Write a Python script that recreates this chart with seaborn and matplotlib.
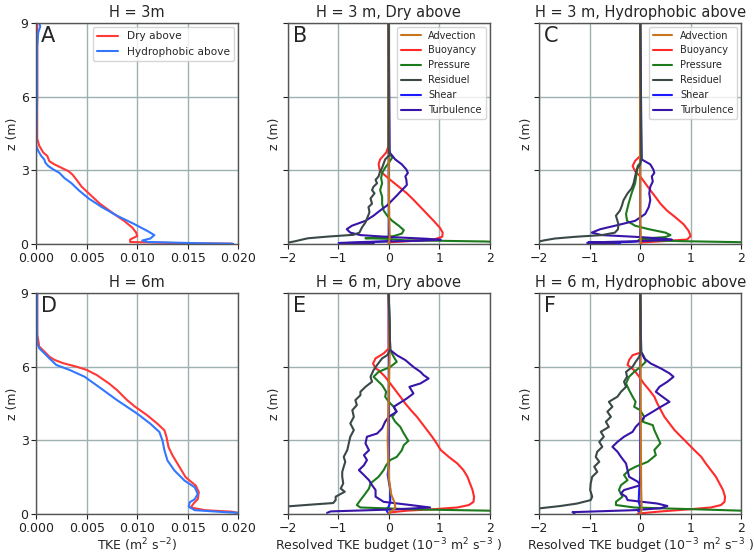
import matplotlib
matplotlib.use("Agg")
import matplotlib.pyplot as plt
from matplotlib.ticker import FormatStrFormatter
import seaborn as sns

# ---- TKE profiles (panels A and D) ----
z_a_dry = [9.0, 6.0, 4.5, 4.28, 4.0, 3.72, 3.58, 3.37, 3.24, 3.1, 2.96, 2.82, 2.61, 2.33, 2.06, 1.64, 1.22, 0.94, 0.67, 0.46, 0.32, 0.18, 0.08, 0.03, 0.01]
tke_a_dry = [0.0001, 0.0001, 0.0001, 0.0001, 0.0003, 0.0007, 0.0011, 0.0013, 0.0018, 0.0025, 0.0032, 0.0036, 0.0040, 0.0045, 0.0052, 0.0063, 0.0077, 0.0087, 0.0095, 0.0099, 0.0100, 0.0093, 0.0093, 0.0143, 0.0193]
z_a_hyd = [9.0, 8.85, 8.6, 8.0, 6.0, 4.0, 3.79, 3.58, 3.44, 3.31, 3.17, 3.03, 2.89, 2.68, 2.47, 2.19, 1.85, 1.5, 1.15, 0.81, 0.53, 0.36, 0.22, 0.14, 0.08, 0.03, 0.01]
tke_a_hyd = [0.0003, 0.0004, 0.0002, 0.0001, 0.0001, 0.0000, 0.0002, 0.0005, 0.0008, 0.0009, 0.0012, 0.0017, 0.0023, 0.0028, 0.0035, 0.0042, 0.0052, 0.0065, 0.0080, 0.0097, 0.0110, 0.0117, 0.0113, 0.0105, 0.0110, 0.0160, 0.0195]

z_d_dry = [9.0, 7.3, 7.09, 6.82, 6.62, 6.41, 6.28, 6.14, 6.0, 5.87, 5.66, 5.32, 5.05, 4.64, 4.37, 4.02, 3.68, 3.41, 3.14, 2.73, 2.39, 1.91, 1.5, 1.16, 0.89, 0.61, 0.44, 0.27, 0.16, 0.10, 0.05]
tke_d_dry = [0.0001, 0.0001, 0.0002, 0.0003, 0.0008, 0.0013, 0.0018, 0.0027, 0.0040, 0.0050, 0.0060, 0.0072, 0.0080, 0.0090, 0.0098, 0.0110, 0.0120, 0.0127, 0.0129, 0.0131, 0.0135, 0.0142, 0.0148, 0.0158, 0.0161, 0.0160, 0.0156, 0.0153, 0.0167, 0.0193, 0.0200]
z_d_hyd = [9.0, 6.96, 6.75, 6.55, 6.34, 6.07, 5.87, 5.59, 5.18, 4.64, 4.09, 3.68, 3.34, 3.0, 2.59, 2.18, 1.77, 1.36, 1.09, 0.82, 0.61, 0.48, 0.30, 0.16, 0.08, 0.05]
tke_d_hyd = [0.0001, 0.0001, 0.0003, 0.0008, 0.0013, 0.0020, 0.0033, 0.0048, 0.0062, 0.0080, 0.0100, 0.0113, 0.0122, 0.0125, 0.0127, 0.0130, 0.0137, 0.0147, 0.0157, 0.0160, 0.0157, 0.0152, 0.0151, 0.0157, 0.0187, 0.0200]

# ---- budget terms, H = 3 m, dry above (B) ----
z_b_adv = [9.0, 3.0, 1.0, 0.3, 0.1, 0.0]
adv_b = [0.0, 0.0, 0.01, 0.02, 0.01, 0.0]
z_b_buo = [9.0, 4.0, 3.72, 3.44, 3.24, 3.03, 2.89, 2.61, 2.33, 2.06, 1.78, 1.5, 1.22, 0.94, 0.67, 0.46, 0.29, 0.18, 0.11, 0.07, 0.01]
buo_b = [0.0, 0.0, -0.05, -0.17, -0.2, -0.18, -0.13, 0.03, 0.2, 0.36, 0.5, 0.63, 0.76, 0.89, 1.01, 1.07, 1.06, 0.89, 0.36, 0.03, 0.0]
z_b_pre = [9.0, 3.9, 3.65, 3.51, 3.3, 3.1, 2.89, 2.68, 2.47, 2.19, 1.92, 1.64, 1.36, 1.15, 0.94, 0.74, 0.56, 0.42, 0.32, 0.26, 0.23, 0.21, 0.15, 0.10, 0.07]
pre_b = [0.0, 0.0, 0.03, 0.07, 0.0, -0.07, -0.13, -0.15, -0.13, -0.17, -0.13, -0.13, -0.1, -0.03, 0.07, 0.2, 0.3, 0.26, 0.1, -0.2, -0.46, -0.05, 0.3, 1.9, 2.3]
z_b_res = [9.0, 3.7, 3.65, 3.44, 3.1, 2.96, 2.75, 2.61, 2.47, 2.33, 2.19, 2.06, 1.85, 1.64, 1.5, 1.29, 1.08, 0.875, 0.67, 0.46, 0.37, 0.3, 0.23, 0.16, 0.11, 0.05]
res_b = [0.0, 0.0, 0.03, -0.07, -0.13, -0.17, -0.2, -0.26, -0.23, -0.3, -0.33, -0.28, -0.36, -0.33, -0.4, -0.38, -0.42, -0.46, -0.53, -0.58, -0.7, -1.2, -1.6, -1.75, -1.85, -2.0]
z_b_she = [9.0, 0.25, 0.12, 0.05, 0.03, 0.01]
she_b = [0.0, 0.0, 0.05, -0.6, -0.99, -0.3]
z_b_tur = [9.0, 3.72, 3.44, 3.24, 3.03, 2.89, 2.75, 2.61, 2.4, 2.19, 1.99, 1.78, 1.57, 1.36, 1.15, 0.94, 0.74, 0.6, 0.46, 0.36, 0.28, 0.21, 0.17, 0.13, 0.08, 0.04, 0.01]
tur_b = [0.0, 0.02, 0.13, 0.26, 0.35, 0.38, 0.33, 0.35, 0.36, 0.26, 0.17, 0.07, -0.03, -0.17, -0.3, -0.46, -0.73, -0.83, -0.76, -0.56, 0.03, 0.76, 1.03, 0.63, -0.5, -0.96, -0.3]

# ---- budget terms, H = 3 m, hydrophobic above (C) ----
z_c_adv = [9.0, 3.0, 1.0, 0.3, 0.1, 0.0]
adv_c = [0.0, 0.0, 0.0, 0.01, 0.01, 0.0]
z_c_buo = [9.0, 3.58, 3.38, 3.17, 2.96, 2.75, 2.47, 2.19, 1.92, 1.64, 1.36, 1.08, 0.8, 0.53, 0.32, 0.18, 0.11, 0.06, 0.01]
buo_c = [0.0, 0.0, -0.1, -0.15, -0.1, 0.0, 0.1, 0.2, 0.3, 0.4, 0.53, 0.7, 0.86, 0.96, 1.0, 0.93, 0.43, 0.03, 0.0]
z_c_pre = [9.0, 3.44, 3.3, 3.17, 2.89, 2.47, 2.06, 1.64, 1.22, 0.94, 0.74, 0.6, 0.46, 0.36, 0.28, 0.21, 0.16, 0.11, 0.06]
pre_c = [0.0, 0.02, 0.0, -0.05, -0.07, -0.1, -0.17, -0.23, -0.28, -0.26, -0.1, 0.17, 0.5, 0.6, 0.5, 0.03, -0.03, 0.89, 2.3]
z_c_res = [9.0, 3.44, 3.24, 3.03, 2.75, 2.47, 2.26, 2.06, 1.78, 1.57, 1.36, 1.15, 1.01, 0.8, 0.6, 0.46, 0.36, 0.29, 0.22, 0.15, 0.08]
res_c = [0.0, 0.02, 0.0, -0.07, -0.1, -0.13, -0.17, -0.25, -0.33, -0.36, -0.4, -0.48, -0.46, -0.43, -0.44, -0.5, -0.76, -1.29, -1.69, -1.89, -2.05]
z_c_she = [9.0, 0.25, 0.15, 0.08, 0.04, 0.01]
she_c = [0.0, 0.0, 0.3, -0.2, -1.05, -0.4]
z_c_tur = [9.0, 3.44, 3.24, 3.03, 2.89, 2.75, 2.54, 2.33, 2.06, 1.78, 1.5, 1.22, 0.94, 0.74, 0.6, 0.46, 0.36, 0.29, 0.22, 0.17, 0.11, 0.06, 0.02]
tur_c = [0.0, 0.03, 0.2, 0.26, 0.28, 0.23, 0.25, 0.2, 0.18, 0.2, 0.17, 0.1, -0.1, -0.5, -0.79, -0.96, -0.76, -0.1, 0.43, 0.63, -0.1, -1.03, -0.5]

# ---- budget terms, H = 6 m, dry above (E) ----
z_e_adv = [9.0, 6.5, 5.0, 3.0, 1.5, 0.8, 0.45, 0.25, 0.12, 0.02]
adv_e = [0.0, 0.02, 0.0, -0.02, 0.0, 0.05, 0.12, 0.13, 0.05, 0.0]
z_e_buo = [9.0, 6.74, 6.54, 6.34, 6.13, 5.93, 5.86, 5.59, 5.32, 5.05, 4.78, 4.5, 4.23, 3.96, 3.69, 3.42, 3.15, 2.88, 2.61, 2.33, 2.06, 1.79, 1.52, 1.25, 0.98, 0.71, 0.5, 0.37, 0.27, 0.2, 0.14, 0.07, 0.01]
buo_e = [0.0, 0.0, -0.1, -0.26, -0.31, -0.26, -0.2, -0.07, 0.03, 0.13, 0.23, 0.33, 0.44, 0.56, 0.66, 0.76, 0.86, 0.95, 1.03, 1.19, 1.36, 1.48, 1.56, 1.61, 1.66, 1.69, 1.68, 1.59, 1.36, 0.89, 0.36, 0.03, 0.0]
z_e_pre = [9.0, 6.68, 6.4, 6.2, 5.99, 5.79, 5.59, 5.45, 5.25, 4.98, 4.78, 4.57, 4.37, 4.17, 3.96, 3.76, 3.55, 3.28, 2.98, 2.81, 2.6, 2.33, 2.2, 1.99, 1.79, 1.52, 1.25, 1.04, 0.84, 0.57, 0.37, 0.27, 0.19, 0.14, 0.1]
pre_e = [0.0, 0.03, 0.1, 0.16, 0.03, -0.2, -0.3, -0.23, -0.13, -0.05, -0.07, 0.0, 0.1, 0.15, 0.07, 0.13, 0.23, 0.3, 0.39, 0.3, 0.26, 0.16, 0.03, -0.05, -0.1, -0.2, -0.36, -0.39, -0.46, -0.56, -0.63, -0.56, 0.56, 1.98, 2.3]
z_e_res = [9.0, 6.68, 6.47, 6.34, 6.07, 5.86, 5.59, 5.39, 5.18, 4.98, 4.84, 4.64, 4.44, 4.23, 3.96, 3.69, 3.42, 3.15, 2.88, 2.61, 2.33, 2.13, 1.93, 1.72, 1.52, 1.25, 1.04, 0.91, 0.71, 0.57, 0.45, 0.4, 0.33, 0.27]
res_e = [0.0, 0.03, -0.03, -0.13, -0.23, -0.3, -0.36, -0.33, -0.46, -0.56, -0.56, -0.66, -0.63, -0.72, -0.69, -0.76, -0.69, -0.76, -0.79, -0.82, -0.89, -0.86, -0.89, -0.92, -0.92, -0.9, -0.95, -0.87, -1.05, -1.05, -1.1, -1.45, -1.9, -2.3]
z_e_she = [9.0, 2.0, 1.6, 1.0, 0.5, 0.3, 0.2, 0.1, 0.03]
she_e = [0.0, 0.0, -0.02, 0.03, 0.03, 0.0, -0.05, -0.03, 0.0]
z_e_tur = [9.0, 6.68, 6.47, 6.27, 5.99, 5.79, 5.66, 5.52, 5.32, 5.18, 4.91, 4.71, 4.5, 4.37, 4.17, 3.96, 3.76, 3.49, 3.28, 3.15, 2.88, 2.6, 2.4, 2.2, 1.99, 1.79, 1.59, 1.38, 1.18, 0.98, 0.71, 0.5, 0.37, 0.27, 0.19, 0.11, 0.05]
tur_e = [0.0, 0.03, 0.16, 0.33, 0.49, 0.63, 0.69, 0.79, 0.63, 0.41, 0.49, 0.36, 0.2, 0.1, 0.16, 0.0, -0.07, -0.13, -0.23, -0.43, -0.46, -0.39, -0.49, -0.43, -0.49, -0.59, -0.49, -0.39, -0.33, -0.26, -0.26, -0.1, 0.43, 0.82, 0.1, -1.15, -1.22]

# ---- budget terms, H = 6 m, hydrophobic above (F) ----
z_f_adv = [9.0, 4.0, 1.0, 0.2, 0.0]
adv_f = [0.0, 0.01, 0.02, 0.03, 0.0]
z_f_buo = [9.0, 6.57, 6.47, 6.27, 6.07, 5.86, 5.59, 5.32, 5.05, 4.78, 4.5, 4.23, 3.96, 3.69, 3.42, 3.15, 2.88, 2.61, 2.33, 2.06, 1.79, 1.52, 1.25, 0.98, 0.71, 0.5, 0.37, 0.27, 0.19, 0.11, 0.02]
buo_f = [0.0, 0.0, -0.15, -0.22, -0.25, -0.12, -0.02, 0.07, 0.18, 0.28, 0.34, 0.41, 0.48, 0.58, 0.68, 0.81, 0.94, 1.07, 1.21, 1.3, 1.4, 1.5, 1.57, 1.64, 1.68, 1.67, 1.6, 1.4, 0.94, 0.41, -0.05]
z_f_pre = [9.0, 6.6, 6.4, 6.2, 6.0, 5.79, 5.59, 5.32, 5.05, 4.78, 4.57, 4.37, 4.23, 3.96, 3.76, 3.62, 3.42, 3.15, 2.88, 2.61, 2.4, 2.13, 1.93, 1.79, 1.59, 1.38, 1.18, 0.98, 0.71, 0.5, 0.37, 0.27, 0.19, 0.14, 0.1]
pre_f = [0.0, 0.02, 0.08, 0.11, 0.01, -0.12, -0.22, -0.28, -0.22, -0.15, -0.09, -0.12, 0.0, 0.08, 0.05, 0.25, 0.28, 0.34, 0.4, 0.28, 0.31, 0.15, -0.09, -0.22, -0.32, -0.25, -0.38, -0.42, -0.35, -0.48, -0.48, -0.12, 1.2, 2.0, 2.3]
z_f_res = [9.0, 6.6, 6.4, 6.2, 6.0, 5.79, 5.59, 5.39, 5.18, 4.98, 4.78, 4.57, 4.37, 4.17, 3.96, 3.76, 3.55, 3.35, 3.15, 2.94, 2.74, 2.54, 2.33, 2.13, 1.93, 1.72, 1.52, 1.25, 0.98, 0.71, 0.57, 0.43, 0.33, 0.24, 0.18]
res_f = [0.0, 0.01, -0.02, -0.09, -0.15, -0.28, -0.26, -0.32, -0.28, -0.38, -0.45, -0.62, -0.55, -0.65, -0.58, -0.68, -0.62, -0.78, -0.72, -0.81, -0.75, -0.85, -0.88, -0.81, -0.91, -0.85, -0.95, -0.98, -0.99, -0.95, -0.98, -1.25, -1.58, -1.97, -2.3]
z_f_she = [9.0, 1.5, 1.0, 0.5, 0.3, 0.15, 0.05]
she_f = [0.0, 0.0, -0.02, -0.03, 0.0, -0.05, 0.0]
z_f_tur = [9.0, 6.6, 6.34, 6.13, 5.93, 5.73, 5.59, 5.39, 5.18, 4.98, 4.78, 4.57, 4.37, 4.17, 3.96, 3.76, 3.55, 3.35, 3.15, 2.94, 2.74, 2.54, 2.33, 2.06, 1.79, 1.52, 1.32, 1.18, 0.98, 0.84, 0.71, 0.57, 0.43, 0.33, 0.24, 0.16, 0.08, 0.04]
tur_f = [0.0, 0.02, 0.08, 0.21, 0.41, 0.58, 0.66, 0.54, 0.38, 0.31, 0.44, 0.58, 0.41, 0.25, 0.08, 0.01, -0.09, -0.15, -0.32, -0.45, -0.55, -0.45, -0.38, -0.28, -0.25, -0.22, -0.05, 0.01, -0.32, -0.38, -0.28, -0.25, 0.34, 0.54, 0.41, -0.12, -1.34, -1.3]

term_names = ['Advection', 'Buoyancy', 'Pressure', 'Residuel', 'Shear', 'Turbulence']
term_colors = ['#c8741a', '#ff2a2a', '#1c7a1c', '#3a4848', '#1a1aff', '#3814a8']
term_zorder = [2.2, 2.0, 2.0, 2.5, 1.9, 2.1]

budgets = {
    'B': [(adv_b, z_b_adv), (buo_b, z_b_buo), (pre_b, z_b_pre), (res_b, z_b_res), (she_b, z_b_she), (tur_b, z_b_tur)],
    'C': [(adv_c, z_c_adv), (buo_c, z_c_buo), (pre_c, z_c_pre), (res_c, z_c_res), (she_c, z_c_she), (tur_c, z_c_tur)],
    'E': [(adv_e, z_e_adv), (buo_e, z_e_buo), (pre_e, z_e_pre), (res_e, z_e_res), (she_e, z_e_she), (tur_e, z_e_tur)],
    'F': [(adv_f, z_f_adv), (buo_f, z_f_buo), (pre_f, z_f_pre), (res_f, z_f_res), (she_f, z_f_she), (tur_f, z_f_tur)],
}

sns.set_style("ticks")
plt.rcParams['font.family'] = ['DejaVu Sans']
plt.rcParams['mathtext.default'] = 'regular'

fig, axes = plt.subplots(2, 3, figsize=(7.54, 5.57), dpi=100)
plt.subplots_adjust(left=0.048, right=0.983, bottom=0.077, top=0.959, wspace=0.245, hspace=0.222)

grid_col = '#9fb0b0'
lw = 1.5

def style_axis(ax, letter, title):
    ax.set_ylim(0, 9)
    ax.set_yticks([0, 3, 6, 9])
    ax.grid(True, color=grid_col, lw=1.0)
    ax.set_axisbelow(True)
    for s in ax.spines.values():
        s.set_color('#555555')
        s.set_linewidth(1.0)
    ax.tick_params(labelsize=9, colors='#222222', length=3.5, pad=2)
    ax.set_title(title, fontsize=10.5, pad=4)
    ax.set_ylabel('z (m)', fontsize=9, labelpad=1)
    ax.text(0.025, 0.985, letter, transform=ax.transAxes, fontsize=15, va='top', ha='left')

# TKE panels
for ax, zd, td, zh, th, letter, title in [
        (axes[0, 0], z_a_dry, tke_a_dry, z_a_hyd, tke_a_hyd, 'A', 'H = 3m'),
        (axes[1, 0], z_d_dry, tke_d_dry, z_d_hyd, tke_d_hyd, 'D', 'H = 6m')]:
    sns.lineplot(x=td, y=zd, sort=False, estimator=None, color='#ff3838', lw=lw, label='Dry above', legend=False, ax=ax)
    sns.lineplot(x=th, y=zh, sort=False, estimator=None, color='#3377ff', lw=lw, label='Hydrophobic above', legend=False, ax=ax)
    ax.set_xlim(0, 0.02)
    ax.set_xticks([0, 0.005, 0.01, 0.015, 0.02])
    ax.xaxis.set_major_formatter(FormatStrFormatter('%.3f'))
    style_axis(ax, letter, title)
axes[0, 0].legend(loc='upper right', fontsize=7.6, borderaxespad=0.4)
axes[1, 0].set_xlabel('TKE (m$^2$ s$^{-2}$)', fontsize=9, labelpad=1)

# budget panels
for ax, key, title in [(axes[0, 1], 'B', 'H = 3 m, Dry above'),
                       (axes[0, 2], 'C', 'H = 3 m, Hydrophobic above'),
                       (axes[1, 1], 'E', 'H = 6 m, Dry above'),
                       (axes[1, 2], 'F', 'H = 6 m, Hydrophobic above')]:
    for (xs, zs), name, col, zo in zip(budgets[key], term_names, term_colors, term_zorder):
        sns.lineplot(x=xs, y=zs, sort=False, estimator=None, color=col, lw=lw,
                     label=name, legend=False, zorder=zo, ax=ax)
    ax.set_xlim(-2, 2)
    ax.set_xticks([-2, -1, 0, 1, 2])
    style_axis(ax, key, title)
    ax.tick_params(axis='y', labelleft=False)
    if key in ('B', 'C'):
        ax.legend(loc='upper right', fontsize=7, borderaxespad=0.4)
    else:
        ax.set_xlabel('Resolved TKE budget (10$^{-3}$ m$^2$ s$^{-3}$ )', fontsize=9, labelpad=1)

plt.savefig('out.png', dpi=100)
